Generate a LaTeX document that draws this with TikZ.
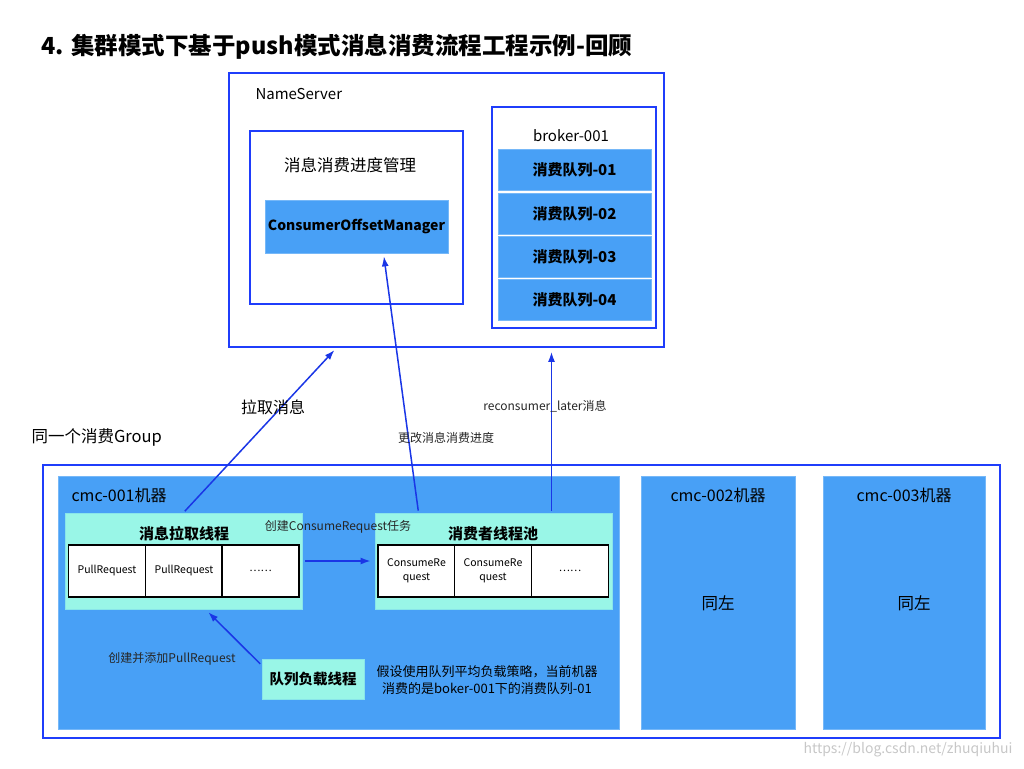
\documentclass[tikz,border=0pt]{standalone}
\usepackage{fontspec}
\setmainfont{Noto Sans CJK SC}
\usetikzlibrary{arrows.meta,positioning,calc}
\definecolor{bord}{HTML}{1F3DFB}
\definecolor{qblue}{HTML}{48A0F6}
\definecolor{mint}{HTML}{99F6E7}
\definecolor{arblue}{HTML}{1A36E6}
\newcommand\fsz[1]{\fontsize{#1}{#1}\selectfont}
\tikzset{
  bx/.style  ={draw=bord,line width=1.8pt,inner sep=0pt},
  blu/.style ={fill=qblue,draw=qblue!75!white,line width=.8pt,inner sep=0pt,align=center},
  mnt/.style ={fill=mint,draw=mint!80!qblue,line width=.8pt,inner sep=0pt,align=center},
  cell/.style={draw=black,fill=white,line width=1.3pt,minimum width=77,minimum height=52,
               inner sep=0pt,align=center,font=\fontsize{10.5}{14}\selectfont},
  ar/.style  ={-{Latex[length=10pt,width=7pt]},draw=arblue,line width=1.5pt},
  lbl/.style ={font=\fsz{12},text=black!85,align=center},
}
\begin{document}
\begin{tikzpicture}[x=1pt,y=-1pt]
  \useasboundingbox (0,0) rectangle (1024,768);
  \node[anchor=west,font=\bfseries\fsz{23.5}] (title) at (38,47)
       {4. 集群模式下基于push模式消息消费流程工程示例-回顾};
  % name server side
  \node[bx,minimum width=435,minimum height=274] (ns) at (446.5,210) {};
  \node[anchor=west,font=\fsz{15}] (nsl) at (252,94) {NameServer};
  \node[bx,minimum width=213,minimum height=173] (prog) at (356.5,217.5) {};
  \node[font=\fsz{16.5}] (progl) at (350,165) {消息消费进度管理};
  \node[blu,minimum width=183,minimum height=53,font=\bfseries\fsz{14}] (com) at (356.5,226.5)
       {ConsumerOffsetManager};
  \node[bx,minimum width=164,minimum height=221] (brk) at (574,217.5) {};
  \node[font=\fsz{15}] (brkl) at (571,136) {broker-001};
  \foreach \i in {1,...,4}
    \node[blu,minimum width=153,minimum height=41,font=\bfseries\fsz{15}] (q\i)
         at (574.5,{170+43.4*(\i-1)}) {消费队列-0\i};
  % consumer group
  \node[anchor=west,font=\fsz{16.5}] (grpl) at (28,437) {同一个消费Group};
  \node[bx,minimum width=957,minimum height=273] (grp) at (521.5,601.5) {};
  \node[blu,minimum width=561,minimum height=253] (m1) at (338.5,602.5) {};
  \node[blu,minimum width=154,minimum height=253] (m2) at (718,602.5) {};
  \node[blu,minimum width=162,minimum height=253] (m3) at (904,602.5) {};
  \node[anchor=west,font=\fsz{16}] (m1l) at (68,495) {cmc-001机器};
  \node[font=\fsz{16}] (m2l) at (718,495) {cmc-002机器};
  \node[font=\fsz{16}] (m3l) at (904,495) {cmc-003机器};
  \node[font=\fsz{16.5}] (m2t) at (718,603) {同左};
  \node[font=\fsz{16.5}] (m3t) at (914,603) {同左};
  \node[mnt,minimum width=237,minimum height=96] (pull) at (183.5,561) {};
  \node[font=\bfseries\fsz{15}] (pulll) at (184,534) {消息拉取线程};
  \node[cell] (p1) at (107,571) {\raisebox{-3pt}{PullRequest}};
  \node[cell] (p2) at (184,571) {\raisebox{-1pt}{PullRequest}};
  \node[cell] (p3) at (260.5,571) {……};
  \node[mnt,minimum width=237,minimum height=96] (pool) at (493.5,561) {};
  \node[font=\bfseries\fsz{15}] (pooll) at (493,534) {消费者线程池};
  \node[cell] (c1) at (416.5,571) {ConsumeRe\\quest};
  \node[cell] (c2) at (493,571) {ConsumeRe\\quest};
  \node[cell] (c3) at (570,571) {……};
  \node[mnt,minimum width=102,minimum height=40,font=\bfseries\fsz{14.5}] (lb) at (313,679)
       {队列负载线程};
  \node[font=\fontsize{13}{17}\selectfont,align=center] (note) at (487,680)
       {假设使用队列平均负载策略，当前机器\\消费的是boker-001下的消费队列-01};
  % connectors
  \draw[ar,shorten <=2pt,shorten >=3pt] (pull.north) -- ([xshift=-110]ns.south);
  \draw[ar,shorten <=2pt,shorten >=3pt] ([xshift=-75]pool.north) -- ([xshift=27]com.south);
  \draw[ar,shorten <=2pt,shorten >=4pt] ([xshift=58]pool.north) -- ([xshift=105]ns.south);
  \draw[ar,shorten <=3pt,shorten >=4pt] (pull.east) -- (pool.west);
  \draw[ar,shorten <=2pt,shorten >=4pt] (lb.165) -- ([xshift=22]pull.south);
  \node[font=\fsz{16}] (pullmsg) at (273,407) {拉取消息};
  \node[lbl] (chg) at (446,438) {更改消息消费进度};
  \node[lbl] (rcl) at (545,406) {reconsumer\_later消息};
  \node[lbl] (mkc) at (338,527) {创建ConsumeRequest任务};
  \node[lbl] (mkp) at (172,659) {创建并添加PullRequest};
  \node[anchor=east,font=\fsz{14},text=black!22] (wm) at (1016,750) {https://blog.csdn.net/zhuqiuhui};
\end{tikzpicture}
\end{document}
